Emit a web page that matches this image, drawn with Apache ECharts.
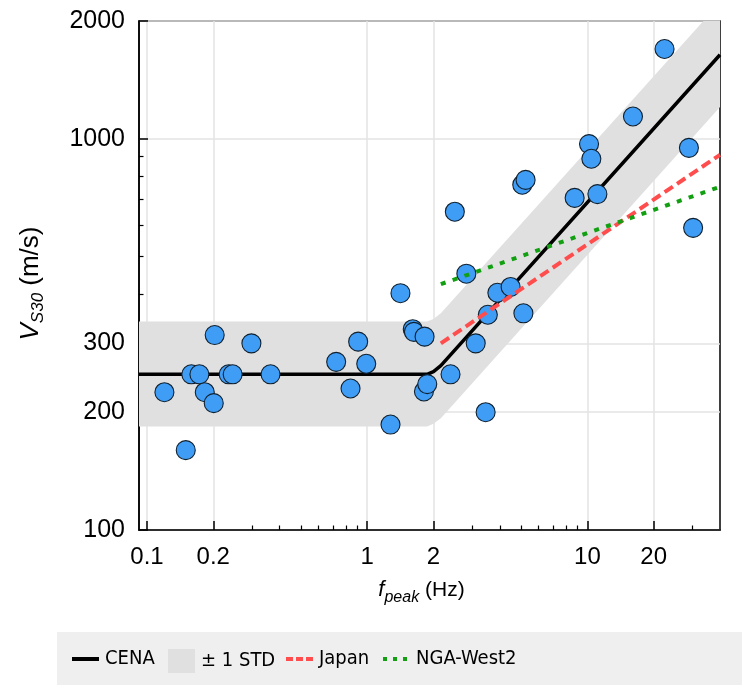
<!DOCTYPE html>
<html><head><meta charset="utf-8">
<script src="https://cdn.jsdelivr.net/npm/echarts@6/dist/echarts.min.js"></script>
<style>html,body{margin:0;padding:0;background:#fff}#c{width:742px;height:686px}</style>
</head><body><div id="c"></div>
<script>
// ---- data ----
const fpeak = [0.120, 0.150, 0.159, 0.173, 0.183, 0.201, 0.203, 0.235, 0.245, 0.298, 0.364,
  0.723, 0.84, 0.91, 0.99, 1.276, 1.416, 1.61, 1.63, 1.822, 1.81, 1.874, 2.39, 3.11, 3.45,
  3.53, 3.9, 4.48, 5.12, 2.5, 2.82, 5.06, 5.24, 8.75, 10.17, 10.42, 11.1, 16.1, 22.4, 28.9, 30.2];
const vs30 = [225, 160, 250, 250, 225, 211, 315, 250, 250, 300, 250,
  269, 230, 303, 266, 186, 403, 326, 321, 312, 226, 236, 250, 300, 200,
  355, 404, 418, 358, 651, 452, 763, 785, 706, 969, 889, 722, 1140, 1696, 948, 592];
const cenaF = [0.092, 1.87, 2.0, 2.16, 40];
const cenaV = [250, 250, 254, 263, 1640];
const bandF = [0.092, 1.87, 2.0, 2.16, 40];
const bandUpper = [341, 341, 346, 358, 2230];
const bandLower = [184, 184, 187, 193, 1205];
const japanF = [2.16, 40];
const japanV = [300, 910];
const ngaF = [2.16, 40];
const ngaV = [425, 754];
const xMajorTicks = [0.1, 0.2, 1, 2, 10, 20];
const xMinorTicks = [0.3, 0.4, 0.5, 0.6, 0.7, 0.8, 0.9, 3, 4, 5, 6, 7, 8, 9, 30];
const yMajorTicks = [100, 200, 300, 1000, 2000];
const yMinorTicks = [400, 500, 600, 700, 800, 900];
const xRange = [0.092, 40];
const yRange = [100, 2000];

const FONT = '"Liberation Sans", Arial, Helvetica, sans-serif';
const NARROW = '"DejaVu Sans Condensed", "Liberation Sans", sans-serif';

const zip = (a, b) => a.map((v, i) => [v, b[i]]);

const chart = echarts.init(document.getElementById('c'), null, {renderer: 'canvas'});

const legendBase = {
  top: 649, itemWidth: 27, itemHeight: 24, itemGap: 0, padding: 0,
  textStyle: {fontFamily: NARROW, fontSize: 20, color: '#000', padding: [2, 0, 0, 1]},
  selectedMode: false
};
const noSym = {color: 'transparent', borderColor: 'transparent', borderWidth: 0};

const option = {
  animation: false,
  backgroundColor: '#fff',
  graphic: [{type: 'rect', left: 57, top: 632, shape: {width: 700, height: 53}, style: {fill: '#efefef'}, z: -10, silent: true}],
  grid: {left: 139, top: 21, width: 581, height: 509, show: true, borderColor: '#000', borderWidth: 1.5, backgroundColor: 'transparent'},
  xAxis: [{
    type: 'log', logBase: 10, min: xRange[0], max: xRange[1], position: 'bottom',
    name: '{f|f}{s|peak}{n| (Hz)}', nameLocation: 'middle', nameGap: 44,
    nameTextStyle: {padding: [0, 16, 0, 0], rich: {
      f: {fontFamily: FONT, fontStyle: 'italic', fontSize: 22, color: '#000'},
      s: {fontFamily: FONT, fontStyle: 'italic', fontSize: 16, color: '#000', padding: [16, 0, 0, 0]},
      n: {fontFamily: FONT, fontSize: 21, color: '#000'}}},
    axisLine: {show: true, lineStyle: {color: '#000', width: 1.5}},
    axisTick: {show: true, inside: true, length: 9, customValues: xMajorTicks, lineStyle: {color: '#000', width: 1.5}},
    axisLabel: {show: true, customValues: xMajorTicks, margin: 15, fontFamily: FONT, fontSize: 24, color: '#000',
      formatter: v => String(+v.toPrecision(3))},
    splitLine: {show: true, lineStyle: {color: '#e3e3e3', width: 1.5}},
    minorTick: {show: false}
  }, {
    type: 'log', logBase: 10, min: xRange[0], max: xRange[1], position: 'bottom', gridIndex: 0,
    axisLine: {show: false},
    axisTick: {show: true, inside: true, length: 4.5, customValues: xMinorTicks, lineStyle: {color: '#000', width: 1.2}},
    axisLabel: {show: false}, splitLine: {show: false}
  }],
  yAxis: [{
    type: 'log', logBase: 10, min: yRange[0], max: yRange[1], position: 'left',
    name: '{v|V}{s|S30}{n| (m/s)}', nameLocation: 'middle', nameGap: 92, nameRotate: 90,
    nameTextStyle: {padding: [0, 16, 0, 0], rich: {
      v: {fontFamily: FONT, fontStyle: 'italic', fontSize: 26, color: '#000'},
      s: {fontFamily: FONT, fontStyle: 'italic', fontSize: 17, color: '#000', padding: [16, 0, 0, 0]},
      n: {fontFamily: FONT, fontSize: 26, color: '#000'}}},
    axisLine: {show: true, lineStyle: {color: '#000', width: 1.5}},
    axisTick: {show: true, inside: true, length: 9, customValues: yMajorTicks, lineStyle: {color: '#000', width: 1.5}},
    axisLabel: {show: true, customValues: yMajorTicks, margin: 14, fontFamily: FONT, fontSize: 25, color: '#000',
      formatter: v => String(Math.round(v))},
    splitLine: {show: true, lineStyle: {color: '#e3e3e3', width: 1.5}}
  }, {
    type: 'log', logBase: 10, min: yRange[0], max: yRange[1], position: 'left', gridIndex: 0,
    axisLine: {show: false},
    axisTick: {show: true, inside: true, length: 4.5, customValues: yMinorTicks, lineStyle: {color: '#000', width: 1.2}},
    axisLabel: {show: false}, splitLine: {show: false}
  }],
  legend: [
    Object.assign({}, legendBase, {left: 70, data: [{name: 'CENA', itemStyle: noSym,
      lineStyle: {color: '#000', width: 4, type: 'solid'}}]}),
    Object.assign({}, legendBase, {left: 168, data: [{name: '± 1 STD', icon: 'rect', itemStyle: {color: '#e0e0e0'}}]}),
    Object.assign({}, legendBase, {left: 284, data: [{name: 'Japan', itemStyle: noSym,
      lineStyle: {color: '#ff4d4d', width: 4, type: [7, 3]}}]}),
    Object.assign({}, legendBase, {left: 381, data: [{name: 'NGA-West2', itemStyle: noSym,
      lineStyle: {color: '#12a012', width: 4, type: [4, 6]}}]})
  ],
  series: [{
    name: '± 1 STD', type: 'custom', xAxisIndex: 0, yAxisIndex: 0, z: 1,
    itemStyle: {color: '#e0e0e0'},
    data: [0],
    renderItem: (params, api) => {
      const up = bandF.map((f, i) => api.coord([f, bandUpper[i]]));
      const lo = bandF.map((f, i) => api.coord([f, bandLower[i]])).reverse();
      const cs = params.coordSys;
      return {type: 'polygon', shape: {points: up.concat(lo)}, style: {fill: '#e0e0e0'},
        clipPath: {type: 'rect', shape: {x: cs.x, y: cs.y, width: cs.width, height: cs.height}}};
    }
  }, {
    name: 'CENA', type: 'line', symbol: 'none', z: 3, data: zip(cenaF, cenaV),
    lineStyle: {color: '#000', width: 3.5, cap: 'butt'}, itemStyle: {color: '#000'}
  }, {
    name: 'Sites', type: 'scatter', z: 4, symbol: 'circle', symbolSize: 19,
    data: zip(fpeak, vs30),
    itemStyle: {color: '#3f9df6', borderColor: '#10202e', borderWidth: 1.1, opacity: 1}
  }, {
    name: 'Japan', type: 'line', symbol: 'none', z: 5, data: zip(japanF, japanV),
    lineStyle: {color: '#ff4d4d', width: 4, type: [10, 5], cap: 'butt'}, itemStyle: {color: '#ff4d4d'}
  }, {
    name: 'NGA-West2', type: 'line', symbol: 'none', z: 6, data: zip(ngaF, ngaV),
    lineStyle: {color: '#12a012', width: 4, type: [5, 7.5], cap: 'butt'}, itemStyle: {color: '#12a012'}
  }]
};
chart.setOption(option);
</script>
</body></html>
